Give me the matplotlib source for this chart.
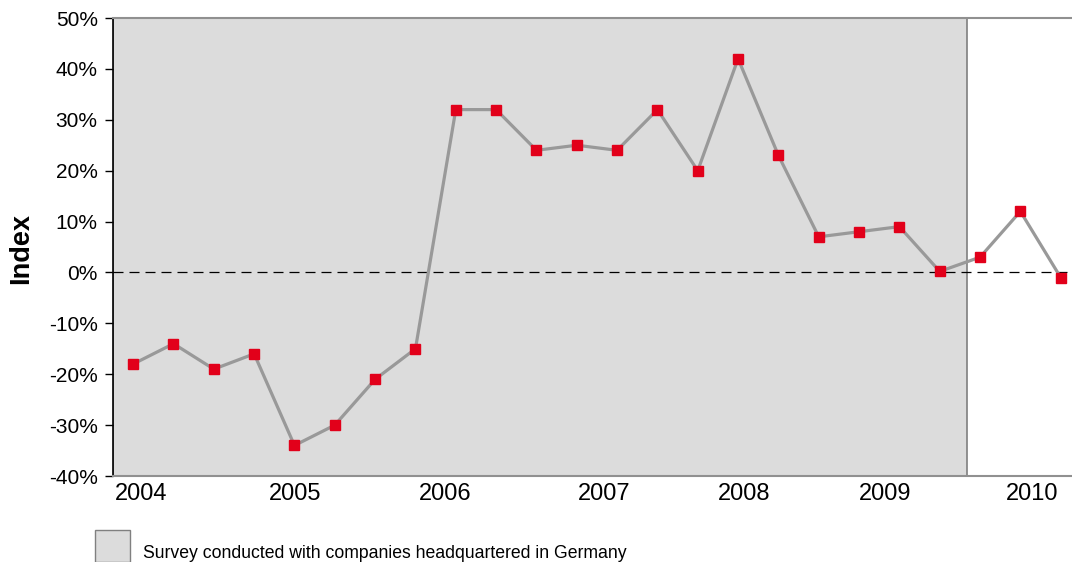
import numpy as np
import matplotlib.pyplot as plt
from matplotlib.patches import Rectangle

plt.rcParams['font.family'] = ['Liberation Sans', 'DejaVu Sans']

# quarterly index values (in %), 2004 - 2010
values = [-18, -14, -19, -16, -34, -30, -21, -15,
          32, 32, 24, 25, 24, 32, 20, 42,
          23, 7, 8, 9, 0.2, 3, 12, -1]
year_labels = ['2004', '2005', '2006', '2007', '2008', '2009', '2010']
year_pos = [0.2, 4.02, 7.74, 11.68, 15.15, 18.65, 22.29]
germany_end = 20.68
y_ticks = list(range(-40, 51, 10))

fig = plt.figure(figsize=(10.72, 5.62), dpi=100)
ax = fig.add_axes([113 / 1072, 1 - 476 / 562, 1 - 113 / 1072, (476 - 18) / 562])

x = np.arange(len(values))
ax.axvspan(-0.5, germany_end, facecolor='#dcdcdc', edgecolor='#7f7f7f', lw=1.2, zorder=0)
ax.axhline(0, color='black', lw=0.9, ls=(0, (8, 4.8)), zorder=1)
ax.plot(x, values, color='#999999', lw=2.3, zorder=2)
ax.plot(x, values, ls='none', marker='s', ms=7.5, color='#e2001a', zorder=3)

ax.set_xlim(-0.5, 23.28)
ax.set_ylim(-40, 50)
ax.set_yticks(y_ticks)
ax.set_yticklabels([f'{v}%' for v in y_ticks], fontsize=15)
ax.set_xticks(year_pos)
ax.set_xticklabels(year_labels, fontsize=17)
ax.tick_params(axis='x', length=0, pad=5)
ax.tick_params(axis='y', length=6, width=1, color='black', pad=5)

ax.spines['left'].set_color('black')
ax.spines['left'].set_linewidth(1.2)
ax.spines['top'].set_color('#909090')
ax.spines['top'].set_linewidth(1.5)
ax.spines['bottom'].set_color('#909090')
ax.spines['bottom'].set_linewidth(1.5)
ax.spines['right'].set_visible(False)

fig.text(21 / 1072, 1 - 248 / 562, 'Index', rotation=90, fontsize=19.5, fontweight='bold',
         ha='center', va='center')

# legend
fig.patches.append(Rectangle((95 / 1072, 0), 35 / 1072, 32 / 562, transform=fig.transFigure,
                             facecolor='#dcdcdc', edgecolor='#808080', lw=1))
fig.text(143 / 1072, 1 - 553 / 562, 'Survey conducted with companies headquartered in Germany',
         fontsize=12.7, ha='left', va='center')

fig.savefig('out.png', dpi=100)
